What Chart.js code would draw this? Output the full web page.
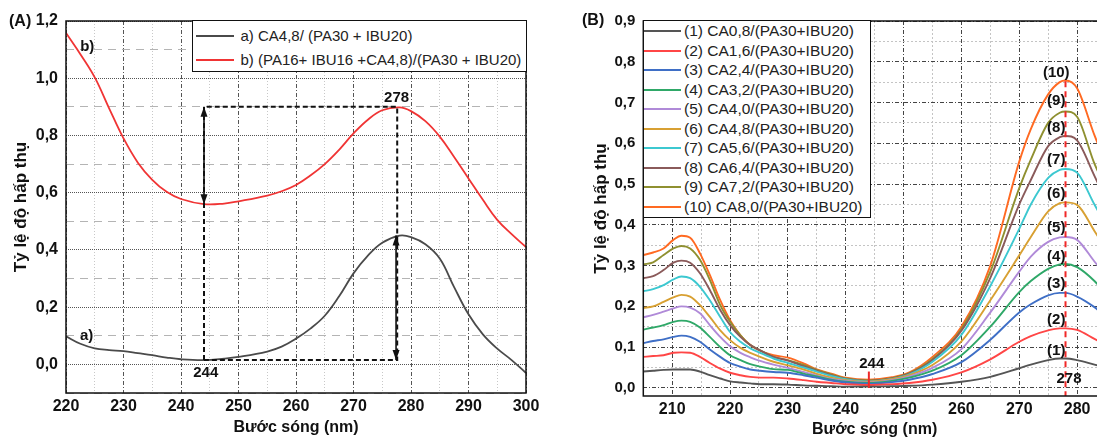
<!DOCTYPE html>
<html><head><meta charset="utf-8">
<script src="https://cdn.jsdelivr.net/npm/chart.js@4.4.0/dist/chart.umd.min.js"></script>
<style>
html,body{margin:0;padding:0;background:#fff;width:1097px;height:439px;overflow:hidden;position:relative;font-family:"Liberation Sans",Arial,sans-serif;}
#ca{position:absolute;left:0;top:0;}
#cb{position:absolute;left:560px;top:0;}
.lg{position:absolute;background:#fff;border:1.5px solid #111;box-sizing:border-box;}
.row{position:absolute;left:0;height:20px;display:flex;align-items:center;white-space:nowrap;color:#222;}
.sw{display:inline-block;height:2px;flex:none;}
.panel{position:absolute;font-weight:bold;font-size:16px;line-height:16px;color:#111;}
</style></head><body>
<canvas id="ca" width="545" height="439"></canvas>
<canvas id="cb" width="560" height="439"></canvas>
<div id="lgA" class="lg" style="left:192px;top:20px;width:335px;height:52px;"></div>
<div id="lgB" class="lg" style="left:643px;top:20px;width:228px;height:198px;"></div>
<div class="panel" style="left:9px;top:13px">(A)</div>
<div class="panel" style="left:582px;top:12px">(B)</div>
<script>
// ---------- Panel A data ----------
const wlA = [220,222.5,225,227.5,230,232.5,235,237.5,240,244,247.5,250,255,257.5,260,262.5,265,267.5,270,272.5,275,278,280,282.5,285,287.5,290,292.5,295,297.5,300];
const absA_a = [0.098,0.072,0.056,0.050,0.046,0.039,0.032,0.024,0.018,0.015,0.020,0.026,0.045,0.062,0.090,0.125,0.170,0.238,0.318,0.380,0.425,0.450,0.445,0.420,0.370,0.270,0.175,0.105,0.055,0.015,-0.030];
const absA_b = [1.158,1.084,1.003,0.895,0.790,0.705,0.645,0.603,0.578,0.560,0.562,0.570,0.590,0.605,0.627,0.660,0.700,0.750,0.807,0.855,0.888,0.898,0.885,0.850,0.796,0.725,0.650,0.575,0.505,0.455,0.410];
const namesA = ['a) CA4,8/ (PA30 + IBU20)','b) (PA16+ IBU16 +CA4,8)/(PA30 + IBU20)'];
const colorsA = ['#4a4a4a','#f03434'];
const xMajorA = [220,230,240,250,260,270,280,290,300];
const xMinorA = [225,235,245,255,265,275,285,295];
const yMajorA = [0,0.2,0.4,0.6,0.8,1.0,1.2];
const yMinorA = [-0.1,0.1,0.3,0.5,0.7,0.9,1.1];
// guide lines / arrows / labels (data coordinates)
const guideX = [244,244,277.6,277.6,244];
const guideY = [0.015,0.9,0.9,0.015,0.015];
const arrowX = [244,277.4];
const arrowFrom = [0.56,0.45];
const arrowTo = [0.9,0.015];
const labelsA = ['278','244','b)','a)'];
const labelAX = [277.5,244.3,223.7,223.6];
const labelAY = [0.93,-0.03,1.111,0.098];

// ---------- Panel B data ----------
const wlB = [205,206.7,208.5,210.2,211.6,213.1,214.8,216.5,218.3,220,221.8,223.5,225.2,227.5,230,232.7,235,237.5,240,244,248,251,255,260,265,270,272,275,277,278,280,283,285];
const sB1 = [0.040,0.042,0.044,0.045,0.045,0.045,0.040,0.031,0.023,0.016,0.013,0.011,0.009,0.009,0.008,0.006,0.005,0.004,0.003,0.003,0.004,0.005,0.008,0.015,0.027,0.048,0.057,0.068,0.072,0.072,0.068,0.057,0.050];
const sB2 = [0.076,0.078,0.080,0.086,0.087,0.086,0.076,0.061,0.047,0.037,0.031,0.027,0.025,0.025,0.023,0.019,0.015,0.012,0.009,0.007,0.009,0.012,0.020,0.038,0.070,0.113,0.127,0.141,0.146,0.146,0.142,0.120,0.105];
const sB3 = [0.110,0.115,0.119,0.125,0.128,0.125,0.113,0.094,0.076,0.061,0.052,0.045,0.042,0.039,0.037,0.031,0.025,0.018,0.013,0.010,0.014,0.020,0.034,0.063,0.118,0.185,0.205,0.227,0.233,0.233,0.224,0.198,0.175];
const sB4 = [0.143,0.148,0.154,0.162,0.165,0.162,0.148,0.125,0.100,0.080,0.068,0.058,0.052,0.046,0.044,0.035,0.028,0.020,0.015,0.012,0.017,0.025,0.042,0.080,0.150,0.235,0.262,0.292,0.303,0.304,0.296,0.262,0.230];
const sB5 = [0.173,0.179,0.187,0.195,0.200,0.197,0.183,0.154,0.125,0.102,0.086,0.075,0.066,0.057,0.049,0.039,0.030,0.022,0.017,0.013,0.019,0.028,0.049,0.095,0.185,0.285,0.322,0.358,0.369,0.370,0.363,0.310,0.275];
const sB6 = [0.196,0.200,0.211,0.222,0.228,0.224,0.203,0.174,0.141,0.117,0.098,0.086,0.076,0.064,0.055,0.045,0.034,0.025,0.019,0.015,0.021,0.031,0.056,0.114,0.215,0.325,0.370,0.433,0.453,0.455,0.449,0.385,0.340];
const sB7 = [0.237,0.242,0.252,0.266,0.273,0.269,0.248,0.215,0.174,0.137,0.113,0.097,0.086,0.072,0.061,0.050,0.040,0.029,0.021,0.016,0.022,0.033,0.064,0.130,0.250,0.390,0.450,0.515,0.535,0.537,0.528,0.450,0.400];
const sB8 = [0.269,0.274,0.289,0.307,0.312,0.307,0.281,0.240,0.191,0.154,0.125,0.105,0.092,0.076,0.067,0.053,0.042,0.031,0.022,0.017,0.023,0.035,0.068,0.140,0.270,0.450,0.510,0.593,0.615,0.618,0.607,0.520,0.460];
const sB9 = [0.303,0.308,0.326,0.342,0.348,0.342,0.314,0.265,0.203,0.162,0.129,0.105,0.092,0.076,0.068,0.056,0.044,0.033,0.023,0.018,0.024,0.036,0.071,0.144,0.285,0.490,0.560,0.650,0.675,0.678,0.665,0.550,0.490];
const sB10 = [0.326,0.332,0.342,0.363,0.373,0.368,0.330,0.277,0.215,0.166,0.129,0.105,0.091,0.080,0.074,0.060,0.045,0.035,0.025,0.020,0.026,0.038,0.076,0.150,0.300,0.555,0.635,0.720,0.750,0.754,0.735,0.620,0.550];
const seriesB = [sB1,sB2,sB3,sB4,sB5,sB6,sB7,sB8,sB9,sB10];
const namesB = ['(1) CA0,8/(PA30+IBU20)','(2) CA1,6/(PA30+IBU20)','(3) CA2,4/(PA30+IBU20)','(4) CA3,2/(PA30+IBU20)','(5) CA4,0/(PA30+IBU20)','(6) CA4,8/(PA30+IBU20)','(7) CA5,6/(PA30+IBU20)','(8) CA6,4/(PA30+IBU20)','(9) CA7,2/(PA30+IBU20)','(10) CA8,0/(PA30+IBU20)'];
const colorsB = ['#555555','#ff4646','#3f6fc6','#2fa868','#b08ad8','#d8a032','#3cc8d0','#8a5a5a','#8f9030','#ff6a22'];
const xMajorB = [210,220,230,240,250,260,270,280];
const xMinorB = [205,215,225,235,245,255,265,275,285];
const yMajorB = [0,0.1,0.2,0.3,0.4,0.5,0.6,0.7,0.8,0.9];
const yMinorB = [0.05,0.15,0.25,0.35,0.45,0.55,0.65,0.75,0.85];
const peakTags = ['(1)','(2)','(3)','(4)','(5)','(6)','(7)','(8)','(9)','(10)'];
const peakTagX = 276.4;
const peakTagY = [0.09,0.168,0.255,0.322,0.392,0.475,0.56,0.638,0.703,0.772];
const peakLineX = 278, peakLineTop = 0.752;
const minMarkX = 244, minMarkY = [0,0.04];
const labelsB = ['244','278'];
const labelBX = [244.5,278.6];
const labelBY = [0.058,0.021];

// ---------- helpers ----------
const F = '"Liberation Sans", Arial, Helvetica, sans-serif';
const isIn = (arr,v) => arr.some(a => Math.abs(a-v) < 1e-6);
const fmt = v => (Math.abs(v)<1e-9?0:v).toFixed(1).replace('.', ',');
const mkTicks = (maj,min) => maj.concat(min).sort((a,b)=>a-b).map(v=>({value:v}));

function arrowHead(ctx, x, y, dir){ // dir -1 up, +1 down
  ctx.beginPath();
  ctx.moveTo(x, y);
  ctx.lineTo(x-3.5, y - dir*10);
  ctx.lineTo(x+3.5, y - dir*10);
  ctx.closePath(); ctx.fill();
}

const annA = { id:'annA', afterDatasetsDraw(chart){
  const {ctx, chartArea:a, scales:{x,y}} = chart;
  ctx.save();
  ctx.strokeStyle='#111'; ctx.fillStyle='#111'; ctx.lineWidth=2; ctx.setLineDash([5,3]);
  ctx.beginPath();
  guideX.forEach((gx,i)=>{ const px=x.getPixelForValue(gx), py=y.getPixelForValue(guideY[i]); i?ctx.lineTo(px,py):ctx.moveTo(px,py); });
  ctx.stroke();
  ctx.setLineDash([]); ctx.lineWidth=1.6;
  arrowX.forEach((ax,i)=>{
    const px=x.getPixelForValue(ax), p1=y.getPixelForValue(arrowFrom[i]), p2=y.getPixelForValue(arrowTo[i]);
    ctx.beginPath(); ctx.moveTo(px,p1); ctx.lineTo(px,p2); ctx.stroke();
    const d = p2>p1 ? 1 : -1;
    arrowHead(ctx, px, p2, d); arrowHead(ctx, px, p1, -d);
  });
  ctx.font='bold 15px '+F; ctx.textAlign='center'; ctx.textBaseline='middle';
  labelsA.forEach((t,i)=>ctx.fillText(t, x.getPixelForValue(labelAX[i]), y.getPixelForValue(labelAY[i])));
  ctx.lineWidth=1.5; ctx.strokeRect(a.left, a.top, a.right-a.left, a.bottom-a.top);
  ctx.restore();
}};

const annB = { id:'annB', afterDatasetsDraw(chart){
  const {ctx, chartArea:a, scales:{x,y}} = chart;
  ctx.save();
  ctx.strokeStyle='#f02828'; ctx.lineWidth=2; ctx.setLineDash([6,4]);
  const px = x.getPixelForValue(peakLineX);
  ctx.beginPath(); ctx.moveTo(px, y.getPixelForValue(peakLineTop)); ctx.lineTo(px, a.bottom); ctx.stroke();
  ctx.setLineDash([]);
  const mx = x.getPixelForValue(minMarkX);
  ctx.beginPath(); ctx.moveTo(mx, y.getPixelForValue(minMarkY[0])); ctx.lineTo(mx, y.getPixelForValue(minMarkY[1])); ctx.stroke();
  ctx.fillStyle='#111'; ctx.font='bold 15px '+F; ctx.textAlign='center'; ctx.textBaseline='middle';
  labelsB.forEach((t,i)=>ctx.fillText(t, x.getPixelForValue(labelBX[i]), y.getPixelForValue(labelBY[i])));
  peakTags.forEach((t,i)=>ctx.fillText(t, x.getPixelForValue(peakTagX), y.getPixelForValue(peakTagY[i])));
  ctx.strokeStyle='#111'; ctx.lineWidth=1.5; ctx.strokeRect(a.left, a.top, a.right-a.left, a.bottom-a.top);
  ctx.restore();
}};

function axis(opts){
  const {min,max,major,minor,label,size,padT,majC,minC,majD,minD,fit,horiz,title,tsize,tpad} = opts;
  return {
    type:'linear', min, max,
    afterBuildTicks: s => { s.ticks = mkTicks(major, minor); },
    afterFit: s => { if(horiz) s.height = fit; else s.width = fit; },
    ticks:{autoSkip:false, maxRotation:0, padding:padT, color:'#111',
      font:{family:F,size:size,weight:'bold'},
      callback: v => isIn(major, v) ? label(v) : ''},
    grid:{drawTicks:false, lineWidth:1,
      color: c => (c.tick && isIn(major, c.tick.value)) ? majC : minC},
    border:{display:false, dash: c => (c.tick && isIn(major, c.tick.value)) ? majD : minD},
    title:{display:true, text:title, color:'#111', font:{family:F,size:tsize,weight:'bold'}, padding:tpad}
  };
}

const common = { responsive:false, animation:false, devicePixelRatio:1,
  plugins:{legend:{display:false}, tooltip:{enabled:false}},
  elements:{point:{radius:0}} };

new Chart(document.getElementById('ca'), {
  type:'line',
  data:{datasets:[absA_a, absA_b].map((s,k)=>({
    label:namesA[k], data: wlA.map((w,i)=>({x:w,y:s[i]})),
    borderColor:colorsA[k], borderWidth:1.8, pointRadius:0, fill:false, tension:0.4}))},
  options:Object.assign({}, common, {
    layout:{padding:{left:0,right:19,top:21,bottom:0}},
    scales:{
      x: axis({min:220,max:300,major:xMajorA,minor:xMinorA,label:v=>String(Math.round(v)),size:16,padT:4,
        majC:'#555',minC:'#c8c8c8',majD:[4,2,1,2],minD:[1,2],fit:46,horiz:true,
        title:'Bước sóng (nm)',tsize:16,tpad:{top:0,bottom:2}}),
      y: axis({min:-0.1,max:1.2,major:yMajorA,minor:yMinorA,label:fmt,size:16,padT:8,
        majC:'#555',minC:'#b4b4b4',majD:[1,1],minD:[8,6],fit:66,horiz:false,
        title:'Tỷ lệ độ hấp thụ',tsize:17,tpad:{top:11,bottom:0}})
    }
  }),
  plugins:[annA]
});

new Chart(document.getElementById('cb'), {
  type:'line',
  data:{datasets:seriesB.map((s,k)=>({
    label:namesB[k], data: wlB.map((w,i)=>({x:w,y:s[i]})),
    borderColor:colorsB[k], borderWidth:1.9, pointRadius:0, fill:false, cubicInterpolationMode:'monotone'}))},
  options:Object.assign({}, common, {
    layout:{padding:{left:0,right:14,top:21,bottom:0}},
    scales:{
      x: axis({min:205,max:285,major:xMajorB,minor:xMinorB,label:v=>String(Math.round(v)),size:16,padT:4,
        majC:'#444',minC:'#c4c4c4',majD:[4,2,1,2],minD:[2,2],fit:43,horiz:true,
        title:'Bước sóng (nm)',tsize:16,tpad:{top:0,bottom:0}}),
      y: axis({min:-0.02,max:0.9,major:yMajorB,minor:yMinorB,label:fmt,size:15,padT:8,
        majC:'#444',minC:'#c4c4c4',majD:[4,2,1,2],minD:[2,2],fit:83.3,horiz:false,
        title:'Tỷ lệ độ hấp thụ',tsize:17,tpad:{top:31,bottom:0}})
    }
  }),
  plugins:[annB]
});

// ---------- HTML legends ----------
function legend(id, names, colors, rowTop, step, swLeft, swW, gap, fsize){
  const box = document.getElementById(id);
  names.forEach((n,i)=>{
    const r = document.createElement('div');
    r.className='row'; r.style.top=(rowTop + i*step)+'px'; r.style.left=swLeft+'px'; r.style.fontSize=fsize+'px';
    const sw = document.createElement('span'); sw.className='sw'; sw.style.width=swW+'px'; sw.style.background=colors[i]; sw.style.marginRight=gap+'px';
    r.appendChild(sw); r.appendChild(document.createTextNode(n)); box.appendChild(r);
  });
}
legend('lgA', namesA, colorsA, 4.5, 24, 2.5, 38, 7, 15);
legend('lgB', namesB, colorsB, 0.2, 19.5, 0, 37, 3, 15.5);
</script>
</body></html>
